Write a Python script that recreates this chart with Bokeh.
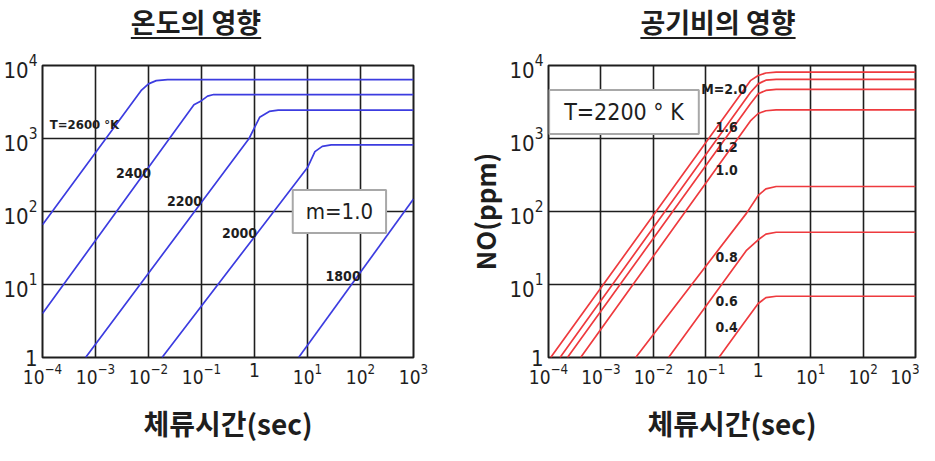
from bokeh.plotting import figure
from bokeh.models import FixedTicker, Label, Div
from bokeh.layouts import row, column
from bokeh.embed import file_html
from bokeh.resources import INLINE

# ---------------- data ----------------
x_ticks = [1e-4, 1e-3, 1e-2, 1e-1, 1, 10, 100, 1000]
y_ticks = [1, 10, 100, 1000, 10000]

# left panel: effect of temperature (m = 1.0), residence time [s] vs NO [ppm]
temp_names = ["T=2600 °K", "2400", "2200", "2000", "1800"]
t_2600 = [1e-4, 7.4e-3, 1.0e-2, 1.4e-2, 2.3e-2, 1e3]
no_2600 = [66, 4600, 5600, 6200, 6400, 6400]
t_2400 = [1e-4, 0.072, 0.10, 0.13, 0.17, 1e3]
no_2400 = [4, 2900, 3300, 3800, 4000, 4000]
t_2200 = [6.5e-4, 0.79, 1.25, 1.9, 2.8, 1e3]
no_2200 = [1, 1000, 1950, 2350, 2450, 2450]
t_2000 = [0.018, 10, 13.8, 19, 28, 1e3]
no_2000 = [1, 400, 660, 780, 820, 820]
t_1800 = [6.8, 1e3]
no_1800 = [1, 148]

# right panel: effect of air ratio (T = 2200 K)
ratio_names = ["M=2.0", "1.6", "1.2", "1.0", "0.8", "0.6", "0.4"]
t_m20 = [1.1e-4, 0.71, 1.0, 1.4, 2.2, 1e3]
no_m20 = [1, 6200, 7300, 7900, 8100, 8100]
t_m16 = [1.66e-4, 0.71, 1.0, 1.4, 2.2, 1e3]
no_m16 = [1, 4260, 5600, 6300, 6450, 6450]
t_m12 = [2.3e-4, 0.71, 1.0, 1.4, 2.2, 1e3]
no_m12 = [1, 3000, 4100, 4550, 4700, 4700]
t_m10 = [4.1e-4, 0.71, 1.0, 1.4, 2.2, 1e3]
no_m10 = [1, 1740, 2200, 2400, 2460, 2460]
t_m08 = [4.6e-3, 0.6, 1.0, 1.4, 2.2, 1e3]
no_m08 = [1, 95, 166, 204, 220, 220]
t_m06 = [0.0195, 0.59, 1.0, 1.4, 2.2, 1e3]
no_m06 = [1, 29, 41, 49, 52, 52]
t_m04 = [0.178, 0.44, 1.0, 1.4, 2.2, 1e3]
no_m04 = [1, 2.45, 5.5, 6.6, 6.9, 6.9]

X_TITLE = "체류시간(sec)"
Y_TITLE = "NO(ppm)"

# ---------------- styling ----------------
NARROW = "DejaVu Sans Condensed"
KR = "Noto Sans CJK KR"
INK = "#1e1e1e"
BLUE = "#3c3ce0"
RED = "#ee3a3e"


def make_fig(width, min_left, min_right):
    p = figure(width=width, height=398, x_axis_type="log", y_axis_type="log",
               x_range=(1e-4, 1e3), y_range=(1, 1e4),
               output_backend="svg", toolbar_location=None,
               min_border_left=min_left, min_border_right=min_right,
               min_border_top=18, min_border_bottom=84,
               background_fill_color="white", border_fill_color="white")
    xt = FixedTicker(ticks=x_ticks, minor_ticks=[])
    yt = FixedTicker(ticks=y_ticks, minor_ticks=[])
    p.xaxis.ticker = xt
    p.yaxis.ticker = yt
    p.xgrid.ticker = xt
    p.ygrid.ticker = yt
    p.grid.grid_line_color = INK
    p.grid.grid_line_width = 1.6
    p.grid.minor_grid_line_color = None
    p.outline_line_color = INK
    p.outline_line_width = 2
    p.axis.axis_line_color = None
    p.axis.major_tick_line_color = None
    p.axis.minor_tick_line_color = None
    p.axis.major_tick_in = 0
    p.axis.major_tick_out = 0
    p.axis.minor_tick_in = 0
    p.axis.minor_tick_out = 0
    p.axis.major_label_text_font = NARROW
    p.axis.major_label_text_color = INK
    p.xaxis.major_label_text_font_size = "19px"
    p.yaxis.major_label_text_font_size = "22px"
    p.xaxis.major_label_standoff = 5
    p.yaxis.major_label_standoff = 5
    p.xaxis.major_label_overrides = {1: "1"}
    p.yaxis.major_label_overrides = {1: "1"}
    p.xaxis.axis_label = X_TITLE
    p.xaxis.axis_label_text_font = KR
    p.xaxis.axis_label_text_font_style = "bold"
    p.xaxis.axis_label_text_font_size = "28px"
    p.xaxis.axis_label_text_color = INK
    p.xaxis.axis_label_standoff = 16
    return p


def add_label(p, x, y, text, size="14px", style="bold", font=NARROW, box=False, pad=0):
    lab = Label(x=x, y=y, text=text, text_align="center", text_baseline="middle",
                text_font=font, text_font_size=size, text_font_style=style,
                text_color=INK)
    if box:
        lab.background_fill_color = "white"
        lab.border_line_color = "#a8a8a8"
        lab.border_line_width = 2
        lab.padding = pad
    p.add_layout(lab)


# ---------------- left panel ----------------
p1 = make_fig(462, 34, 49)
for tx, ny in [(t_2600, no_2600), (t_2400, no_2400), (t_2200, no_2200),
               (t_2000, no_2000), (t_1800, no_1800)]:
    p1.line(tx, ny, line_color=BLUE, line_width=1.7)

add_label(p1, 6.2e-4, 1550, temp_names[0], size="13px")
add_label(p1, 5.2e-3, 340, temp_names[1])
add_label(p1, 0.048, 138, temp_names[2])
add_label(p1, 0.52, 50, temp_names[3])
add_label(p1, 47, 13.2, temp_names[4])
add_label(p1, 40, 100, "m=1.0", size="22px", style="normal", box=True, pad=(13, 9))

# ---------------- right panel ----------------
p2 = make_fig(457, 80, 4)
p2.yaxis.axis_label = Y_TITLE
p2.yaxis.axis_label_text_font = KR
p2.yaxis.axis_label_text_font_style = "bold"
p2.yaxis.axis_label_text_font_size = "26px"
p2.yaxis.axis_label_text_color = INK
p2.yaxis.axis_label_standoff = 4
for tx, ny in [(t_m20, no_m20), (t_m16, no_m16), (t_m12, no_m12), (t_m10, no_m10),
               (t_m08, no_m08), (t_m06, no_m06), (t_m04, no_m04)]:
    p2.line(tx, ny, line_color=RED, line_width=1.7)

add_label(p2, 0.222, 4800, ratio_names[0])
add_label(p2, 0.25, 1450, ratio_names[1])
add_label(p2, 0.25, 760, ratio_names[2])
add_label(p2, 0.25, 370, ratio_names[3])
add_label(p2, 0.25, 24, ratio_names[4])
add_label(p2, 0.25, 5.9, ratio_names[5])
add_label(p2, 0.25, 2.6, ratio_names[6])
add_label(p2, 2.75e-3, 2300, "T=2200 ° K", size="23px", style="normal", box=True, pad=(15, 9))

# ---------------- titles ----------------
TITLE_CSS = ("font-family:'Noto Sans CJK KR',sans-serif;font-weight:700;font-size:27px;"
             "line-height:34px;margin-top:5px;text-decoration:underline;"
             "text-decoration-thickness:2px;text-underline-offset:4px;color:#1e1e1e;"
             "text-align:center;white-space:nowrap;")
d1 = Div(text=f'<div style="{TITLE_CSS}width:392px;">온도의 영향</div>',
         width=462, height=47, margin=(0, 0, 0, 0))
d2 = Div(text=f'<div style="{TITLE_CSS}width:292px;margin-left:110px;">공기비의 영향</div>',
         width=457, height=47, margin=(0, 0, 0, 0))

layout = row(column(d1, p1, spacing=0), column(d2, p2, spacing=0), spacing=0)

with open("out.html", "w") as f:
    f.write(file_html(layout, INLINE))
